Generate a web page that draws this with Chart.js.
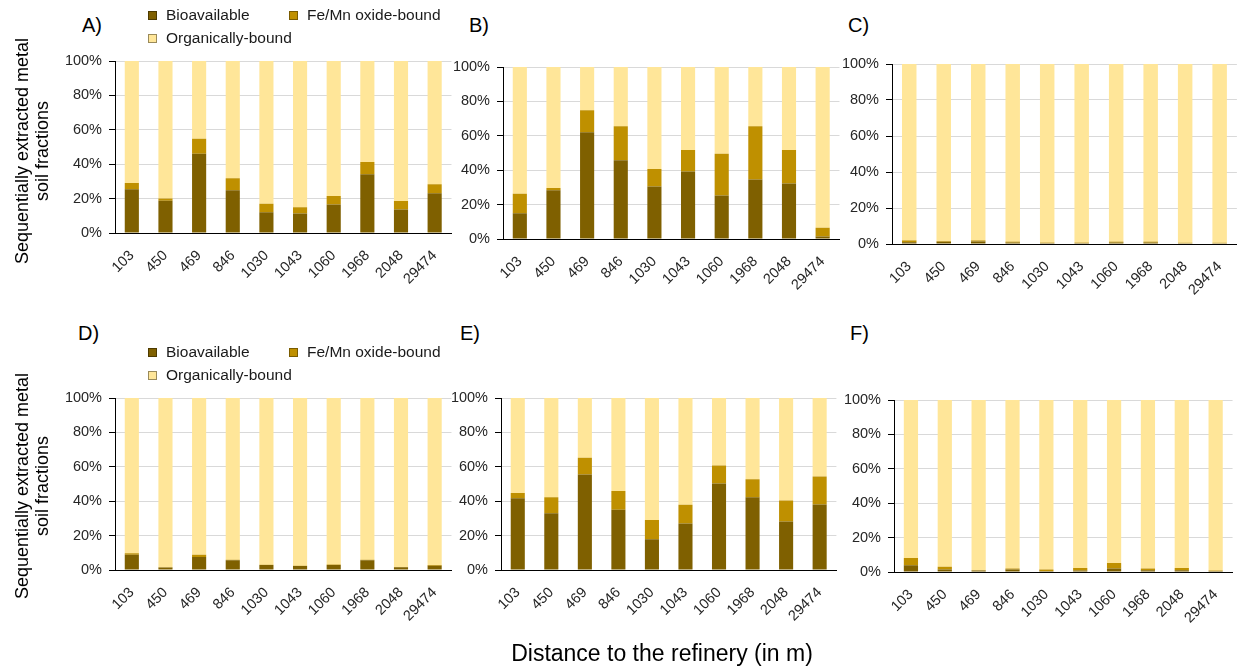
<!DOCTYPE html>
<html>
<head>
<meta charset="utf-8">
<script src="https://cdn.jsdelivr.net/npm/chart.js@4"></script>
<style>
  body { margin: 0; background: #fff; }
  #wrap { position: relative; width: 1238px; height: 670px; overflow: hidden; font-family: "Liberation Sans", Arial, sans-serif; color: #000; }
  .lbl { position: absolute; white-space: nowrap; }
  .ptitle { font-size: 20px; line-height: 20px; }
  .leg { font-size: 15.5px; line-height: 18px; color: #1a1a1a; }
  .mk { position: absolute; width: 7px; height: 7px; border: 1px solid; }
  .ytitle { font-size: 18px; line-height: 20px; text-align: center; transform: translate(-50%, -50%) rotate(-90deg); }
</style>
</head>
<body>
<div id="wrap"></div>
<script>
// distances to the refinery (m)
const distances = ['103', '450', '469', '846', '1030', '1043', '1060', '1968', '2048', '29474'];
const yTicks = [0, 20, 40, 60, 80, 100];
const seriesNames = ['Bioavailable', 'Fe/Mn oxide-bound', 'Organically-bound'];
const seriesColors = ['#7f6000', '#bf9000', '#ffe699'];
const markerBorders = ['#4d3a00', '#7a5c00', '#9a8a5a'];

// A)
const bioA = [25.4, 18.8, 46.1, 24.8, 12.0, 11.4, 16.5, 34.1, 13.6, 23.1];
const feMnA = [3.7, 1.2, 8.7, 7.0, 5.0, 3.5, 5.0, 7.2, 5.0, 5.2];
const organicA = [70.9, 80.0, 45.2, 68.2, 83.0, 85.1, 78.5, 58.7, 81.4, 71.7];
// B)
const bioB = [14.9, 28.4, 62.0, 45.8, 30.5, 39.2, 25.3, 34.6, 32.2, 1.4];
const feMnB = [11.4, 1.3, 12.9, 19.8, 10.2, 12.5, 24.3, 31.0, 19.5, 5.2];
const organicB = [73.7, 70.3, 25.1, 34.4, 59.3, 48.3, 50.4, 34.4, 48.3, 93.4];
// C)
const bioC = [1.0, 1.2, 1.4, 0.8, 0.5, 0.5, 0.8, 0.8, 0.4, 0.4];
const feMnC = [1.0, 0.4, 0.6, 0.5, 0.3, 0.3, 0.5, 0.5, 0.3, 0.3];
const organicC = [98.0, 98.4, 98.0, 98.7, 99.2, 99.2, 98.7, 98.7, 99.3, 99.3];
// D)
const bioD = [8.8, 1.4, 7.6, 5.6, 2.9, 2.3, 2.9, 5.6, 1.6, 2.5];
const feMnD = [0.9, 0.2, 1.2, 0.4, 0.2, 0.2, 0.3, 0.4, 0.2, 0.4];
const organicD = [90.3, 98.4, 91.2, 94.0, 96.9, 97.5, 96.8, 94.0, 98.2, 97.1];
// E)
const bioE = [41.7, 33.0, 55.5, 35.0, 17.9, 27.0, 50.3, 42.3, 28.2, 38.1];
const feMnE = [3.0, 9.3, 9.7, 11.0, 11.2, 10.9, 10.5, 10.5, 12.2, 16.3];
const organicE = [55.3, 57.7, 34.8, 54.0, 70.9, 62.1, 39.2, 47.2, 59.6, 45.6];
// F)
const bioF = [3.9, 1.5, 0.8, 1.5, 0.6, 0.8, 2.1, 1.0, 1.0, 0.6];
const feMnF = [4.2, 1.6, 0.2, 0.6, 0.9, 1.5, 3.1, 1.1, 1.3, 0.2];
const organicF = [91.9, 96.9, 99.0, 97.9, 98.5, 97.7, 94.8, 97.9, 97.7, 99.2];

const wrap = document.getElementById('wrap');
const tickFont = { family: 'Liberation Sans, Arial, sans-serif', size: 14.5 };

// plot area of each panel in page pixels
const panels = [
  { name: 'A)', series: [bioA, feMnA, organicA], left: 115, right: 452, top: 61, bottom: 233, tx: 82, ty: 15 },
  { name: 'B)', series: [bioB, feMnB, organicB], left: 503, right: 840, top: 67, bottom: 239, tx: 469, ty: 15 },
  { name: 'C)', series: [bioC, feMnC, organicC], left: 892, right: 1237, top: 64, bottom: 244, tx: 848, ty: 15 },
  { name: 'D)', series: [bioD, feMnD, organicD], left: 115, right: 452, top: 398, bottom: 570, tx: 78, ty: 323 },
  { name: 'E)', series: [bioE, feMnE, organicE], left: 501, right: 837, top: 398, bottom: 570, tx: 460, ty: 323 },
  { name: 'F)', series: [bioF, feMnF, organicF], left: 894, right: 1233, top: 400, bottom: 572, tx: 850, ty: 323 }
];

function addText(cls, txt, css) {
  const d = document.createElement('div');
  d.className = 'lbl ' + cls;
  d.innerHTML = txt;
  d.style.cssText += css;
  wrap.appendChild(d);
  return d;
}

function makePanel(p) {
  // padT must exceed the y scale's own top padding (half label + tick padding)
  const padL = 70, padT = 18, padB = 60, padR = 1;
  const w = p.right - p.left + padL + padR;
  const h = p.bottom - p.top + padT + padB;
  const cv = document.createElement('canvas');
  cv.width = w;
  cv.height = h;
  cv.style.cssText = `position:absolute;left:${p.left - padL}px;top:${p.top - padT}px;width:${w}px;height:${h}px`;
  wrap.appendChild(cv);

  new Chart(cv, {
    type: 'bar',
    data: {
      labels: distances,
      datasets: p.series.map((d, i) => ({
        label: seriesNames[i],
        data: d,
        backgroundColor: seriesColors[i],
        borderWidth: 0,
        barPercentage: 0.42,
        categoryPercentage: 1
      }))
    },
    options: {
      responsive: false,
      animation: false,
      layout: { padding: { top: padT, right: padR, bottom: 0, left: 0 } },
      plugins: { legend: { display: false }, tooltip: { enabled: false } },
      scales: {
        x: {
          stacked: true,
          grid: { display: false },
          border: { display: true, color: '#000', width: 1 },
          ticks: { autoSkip: false, minRotation: 45, maxRotation: 45, color: '#262626', font: tickFont, padding: 6 },
          afterFit: s => { s.height = padB; }
        },
        y: {
          stacked: true,
          min: 0,
          max: 100,
          afterBuildTicks: s => { s.ticks = yTicks.map(v => ({ value: v })); },
          ticks: { color: '#262626', font: tickFont, padding: 7, callback: v => v + '%' },
          grid: { color: '#d9d9d9', tickColor: '#000', tickLength: 6 },
          border: { color: '#000', width: 1 },
          afterFit: s => { s.width = padL; }
        }
      }
    }
  });

  addText('ptitle', p.name, `left:${p.tx}px;top:${p.ty}px;`);
}

panels.forEach(makePanel);

// legends for panels A and D
function makeLegend(row1, row2) {
  const items = [[148, row1, 0], [289, row1, 1], [148, row2, 2]];
  items.forEach(([x, y, i]) => {
    const m = document.createElement('div');
    m.className = 'mk';
    m.style.left = x + 'px';
    m.style.top = (y - 4) + 'px';
    m.style.background = seriesColors[i];
    m.style.borderColor = markerBorders[i];
    wrap.appendChild(m);
    addText('leg', seriesNames[i], `left:${x + 18}px;top:${y - 9}px;`);
  });
}
makeLegend(15, 38);
makeLegend(352, 375);

// axis titles
addText('ytitle', 'Sequentially extracted metal<br>soil fractions', 'left:32px;top:151px;');
addText('ytitle', 'Sequentially extracted metal<br>soil fractions', 'left:32px;top:486px;');
addText('', 'Distance to the refinery (in m)', 'left:662px;top:653px;font-size:23px;line-height:26px;transform:translate(-50%,-50%);');
</script>
</body>
</html>
